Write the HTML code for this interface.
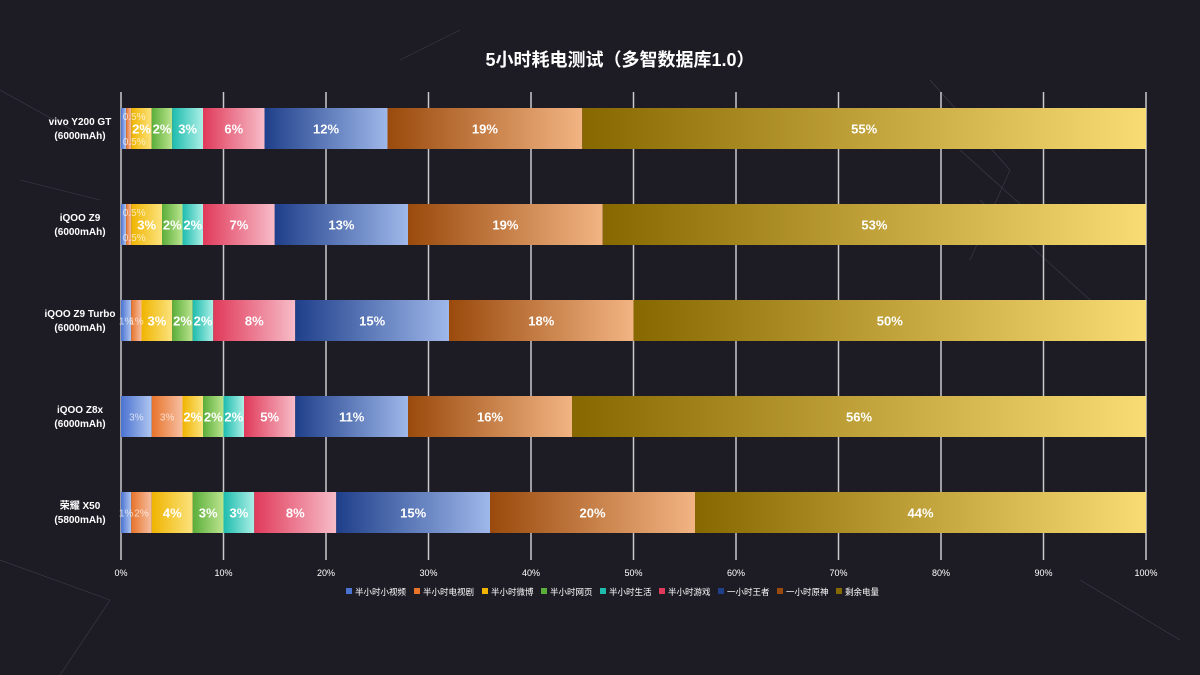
<!DOCTYPE html>
<html><head><meta charset="utf-8"><style>
html,body{margin:0;padding:0;background:#1d1c25;}
svg{display:block;font-family:"Liberation Sans","Noto Sans CJK SC",sans-serif;}
</style></head><body>
<svg id="chart" width="1200" height="675" viewBox="0 0 1200 675">
<defs id="defs"></defs>
<rect width="1200" height="675" fill="#1d1c25"/>
<g stroke="#55535e" stroke-width="0.6" opacity="0.6">
<line x1="930" y1="80" x2="1010" y2="170"/><line x1="1010" y1="170" x2="970" y2="260"/><line x1="960" y1="150" x2="1060" y2="240"/><line x1="980" y1="200" x2="1090" y2="300"/><line x1="0" y1="90" x2="90" y2="140"/><line x1="20" y1="180" x2="100" y2="200"/><line x1="0" y1="560" x2="110" y2="600"/><line x1="110" y1="600" x2="60" y2="675"/><line x1="400" y1="60" x2="460" y2="30"/><line x1="1080" y1="580" x2="1180" y2="640"/>
</g>
<text x="620" y="66" text-anchor="middle" fill="#fff" font-size="18" font-weight="bold">5小时耗电测试（多智数据库1.0）</text>
<g id="grid"></g><g id="bars"></g><g id="labels"></g><g id="ylabels"></g><g id="xticks"></g><g id="legend"></g>
</svg>
<script>
const categories=["vivo Y200 GT","iQOO Z9","iQOO Z9 Turbo","iQOO Z8x","荣耀 X50"];
const capacities=["(6000mAh)","(6000mAh)","(6000mAh)","(6000mAh)","(5800mAh)"];
const seriesNames=["半小时小视频","半小时电视剧","半小时微博","半小时网页","半小时生活","半小时游戏","一小时王者","一小时原神","剩余电量"];
const vivoY200GT=[0.5,0.5,2,2,3,6,12,19,55];
const iqooZ9=[0.5,0.5,3,2,2,7,13,19,53];
const iqooZ9Turbo=[1,1,3,2,2,8,15,18,50];
const iqooZ8x=[3,3,2,2,2,5,11,16,56];
const honorX50=[1,2,4,3,3,8,15,20,44];
const xTicks=[0,10,20,30,40,50,60,70,80,90,100];
const rows=[vivoY200GT,iqooZ9,iqooZ9Turbo,iqooZ8x,honorX50];
const colors=[["#4a72d0","#b0c6f0"],["#e8732a","#f6bfa2"],["#f0b400","#fbe37e"],["#5aae3a","#bce48e"],["#1dbcae","#acefe6"],["#e03a5a","#f7bcc8"],["#1f3f8a","#9fb8ea"],["#9a4a0c","#f2b483"],["#876800","#fadc74"]];
const NS="http://www.w3.org/2000/svg";
const X0=121,X1=1146,TOP=108,STEP=96,H=41;
const xs=v=>X0+(X1-X0)*v/100;
const yr=i=>TOP+i*STEP;
function mk(t,a,p){const e=document.createElementNS(NS,t);for(const k in a)e.setAttribute(k,a[k]);p.appendChild(e);return e;}
const defs=document.getElementById('defs');
colors.forEach((c,i)=>{const g=mk('linearGradient',{id:'g'+i,x1:0,x2:1,y1:0,y2:0},defs);mk('stop',{offset:0,'stop-color':c[0]},g);mk('stop',{offset:1,'stop-color':c[1]},g);});
const grid=document.getElementById('grid'),xt=document.getElementById('xticks');
xTicks.forEach(t=>{
 const l=mk('line',{x1:xs(t),x2:xs(t),y1:92,y2:560,stroke:"#c8c8cc","stroke-width":1.5},grid);
 
 
 const tx=mk('text',{x:xs(t),y:576,'text-anchor':'middle',fill:'#fff','font-size':9},xt);tx.textContent=t+'%';
 
 
});
const bars=document.getElementById('bars'),labels=document.getElementById('labels'),yl=document.getElementById('ylabels');
rows.forEach((r,i)=>{
 let acc=0;const y=yr(i);
 r.forEach((v,j)=>{
  const a=xs(acc),b=xs(acc+v);
  const rc=mk('rect',{x:a,y:y,width:b-a,height:H,fill:'url(#g'+j+')'},bars);
  
  
  let ty=y+H/2+5,fs=13,op=1,tx=(a+b)/2;
  if(v<1){fs=10;op=0.7;ty=(j===0)?y+12:y+H-4;tx=b+(j===0?8:3);}
  else if(j<2){fs=10;op=0.7;ty=y+H/2+4;}
  const t=mk('text',{x:tx,y:ty,'text-anchor':'middle',fill:'#fff','font-size':fs,'font-weight':fs>10?'bold':'normal',opacity:op},labels);
  t.textContent=v+'%';
  
  
  acc+=v;
 });
 const n=mk('text',{x:80,y:y+17,'text-anchor':'middle',fill:'#fff','font-size':10,'font-weight':'bold'},yl);n.textContent=categories[i];
 
 
 const c=mk('text',{x:80,y:y+31,'text-anchor':'middle',fill:'#fff','font-size':10,'font-weight':'bold'},yl);c.textContent=capacities[i];
 
 
});
const lg=document.getElementById('legend');
let lx=346;
seriesNames.forEach((s,j)=>{
 const g=mk('g',{},lg);
 
 
 mk('rect',{x:lx,y:588,width:6,height:6,fill:colors[j][0]},g);
 const t=mk('text',{x:lx+9,y:595,fill:'#fff','font-size':8.5},g);t.textContent=s;
 lx+=9+s.length*9+5;
});
</script>
</body></html>
